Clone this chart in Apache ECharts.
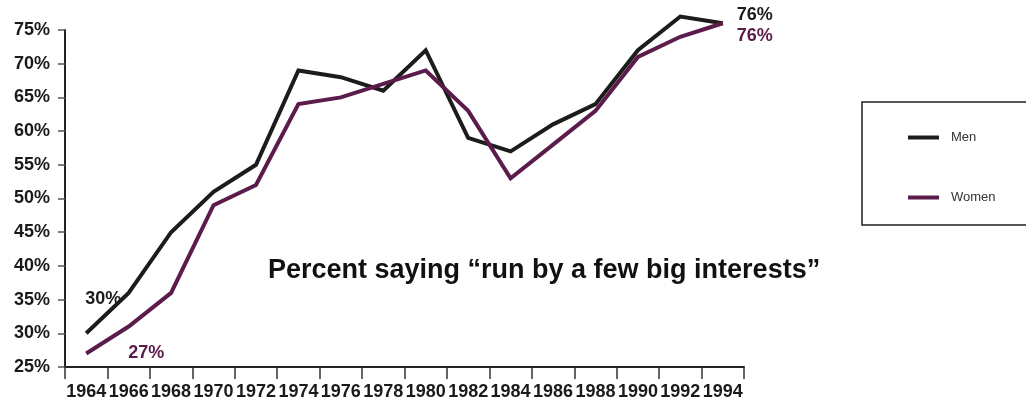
<!DOCTYPE html>
<html>
<head>
<meta charset="utf-8">
<script src="https://cdn.jsdelivr.net/npm/echarts@6/dist/echarts.min.js"></script>
<style>
  html, body { margin: 0; padding: 0; background: #fff; }
  #chart { width: 1026px; height: 403px; }
</style>
</head>
<body>
<div id="chart"></div>
<script>
// Survey years and the share (percent) answering "run by a few big interests"
const years = ['1964', '1966', '1968', '1970', '1972', '1974', '1976', '1978',
               '1980', '1982', '1984', '1986', '1988', '1990', '1992', '1994'];
const men   = [30, 36, 45, 51, 55, 69, 68, 66, 72, 59, 57, 61, 64, 72, 77, 76];
const women = [27, 31, 36, 49, 52, 64, 65, 67, 69, 63, 53, 58, 63, 71, 74, 76];
const yTicks = { min: 25, max: 75, step: 5 };

const MEN_COLOR = '#1c1c1c';
const WOMEN_COLOR = '#5b1b4b';
const FONT = '"Liberation Sans", Arial, Helvetica, sans-serif';

// Endpoint labels: first and last value of each series
function withEndLabels(values, color, firstLabel, lastLabel) {
  return values.map((v, i) => {
    if (i === 0) return { value: v, label: Object.assign({ show: true, color }, firstLabel) };
    if (i === values.length - 1) return { value: v, label: Object.assign({ show: true, color }, lastLabel) };
    return v;
  });
}

const labelFont = { fontSize: 18, fontFamily: FONT, fontWeight: 'bold', formatter: '{c}%' };

const chart = echarts.init(document.getElementById('chart'), null, { renderer: 'canvas' });
chart.setOption({
  backgroundColor: '#ffffff',
  animation: false,
  grid: { left: 65, right: 282, top: 30, bottom: 36 },
  title: {
    text: 'Percent saying \u201crun by a few big interests\u201d',
    left: 268, top: 257, padding: 0,
    textStyle: { fontFamily: FONT, fontSize: 27, fontWeight: 'bold', color: '#111' }
  },
  legend: {
    orient: 'vertical',
    left: 903, top: 126,
    itemGap: 47,
    icon: 'rect',
    itemWidth: 31, itemHeight: 4,
    textStyle: { fontFamily: FONT, fontSize: 13, color: '#333', padding: [0, 0, 0, 7] },
    data: ['Men', 'Women']
  },
  graphic: [{
    type: 'rect',
    shape: { x: 862, y: 102, width: 200, height: 123 },
    style: { fill: 'none', stroke: '#222', lineWidth: 1.5 }
  }],
  xAxis: {
    type: 'category',
    data: years,
    boundaryGap: true,
    axisLine: { lineStyle: { color: '#222', width: 2 } },
    axisTick: { show: true, length: 12, lineStyle: { color: '#333', width: 1.5 } },
    axisLabel: { margin: 16, fontSize: 18, fontFamily: FONT, fontWeight: 'bold', color: '#1a1a1a', interval: 0 },
    splitLine: { show: false }
  },
  yAxis: {
    type: 'value',
    min: yTicks.min, max: yTicks.max, interval: yTicks.step,
    axisLine: { show: true, lineStyle: { color: '#222', width: 2 } },
    axisTick: { show: true, length: 7, lineStyle: { color: '#556', width: 1.5 } },
    axisLabel: { margin: 15, fontSize: 18, fontFamily: FONT, fontWeight: 'bold', color: '#1a1a1a', formatter: '{value}%' },
    splitLine: { show: false }
  },
  series: [
    {
      name: 'Men',
      type: 'line',
      clip: false,
      showSymbol: true,
      symbol: 'circle',
      symbolSize: 0,
      color: MEN_COLOR,
      lineStyle: { color: MEN_COLOR, width: 4, join: 'miter' },
      data: withEndLabels(men, MEN_COLOR,
        Object.assign({ position: 'top', offset: [17, -20] }, labelFont),
        Object.assign({ position: 'right', distance: 14, offset: [0, -8] }, labelFont))
    },
    {
      name: 'Women',
      type: 'line',
      clip: false,
      showSymbol: true,
      symbol: 'circle',
      symbolSize: 0,
      color: WOMEN_COLOR,
      lineStyle: { color: WOMEN_COLOR, width: 4, join: 'miter' },
      data: withEndLabels(women, WOMEN_COLOR,
        Object.assign({ position: 'right', offset: [37, 0] }, labelFont),
        Object.assign({ position: 'right', distance: 14, offset: [0, 13] }, labelFont))
    }
  ]
});
</script>
</body>
</html>
